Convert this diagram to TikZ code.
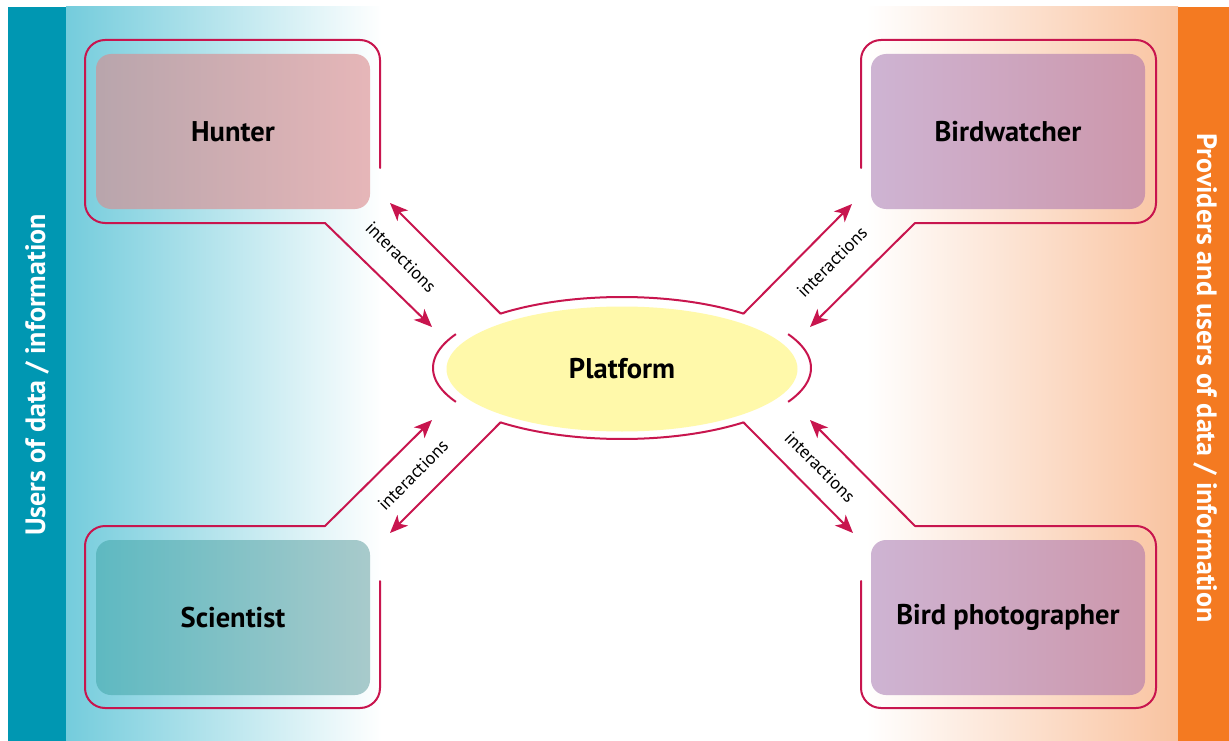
\documentclass[tikz,border=0pt]{standalone}
\usepackage{fontspec}
\setmainfont{PT Sans}
\usetikzlibrary{arrows.meta,shapes.geometric}
\definecolor{crim}{RGB}{200,21,78}
\definecolor{barblue}{RGB}{0,151,178}
\definecolor{lightblue}{RGB}{116,204,220}
\definecolor{barorange}{RGB}{244,122,33}
\definecolor{peach}{RGB}{249,195,160}
\definecolor{yel}{RGB}{255,249,170}
\definecolor{hunL}{RGB}{184,165,172}
\definecolor{hunR}{RGB}{230,182,184}
\definecolor{sciL}{RGB}{94,185,193}
\definecolor{sciR}{RGB}{168,202,203}
\definecolor{birL}{RGB}{206,180,211}
\definecolor{birR}{RGB}{205,151,171}
\begin{document}
\begin{tikzpicture}[x=1pt,y=-1pt,
  outl/.style={draw=crim, line width=2pt, rounded corners=20pt, line cap=round},
  arr/.style={draw=crim, line width=2pt, line cap=round, -{Stealth[length=18pt,width=15pt,inset=5pt]}},
  arcline/.style={draw=crim, line width=2pt},
  actor/.style={minimum width=274pt, minimum height=155pt, rounded corners=15pt, inner sep=0pt, font=\bfseries\fontsize{28.5}{32}\selectfont},
  lbl/.style={font=\fontsize{18}{21}\selectfont, inner sep=1pt},
  side/.style={text=white, font=\bfseries\fontsize{28}{32}\selectfont}
]
\useasboundingbox (0,0) rectangle (1229,741);
\fill[white] (0,0) rectangle (1229,741);
% backgrounds
\fill[left color=lightblue, right color=white] (66,7) rectangle (382,741);
\fill[left color=white, right color=peach] (866,7) rectangle (1178,741);
\fill[barblue] (8,7) rectangle (66,741);
\fill[barorange] (1178,7) rectangle (1229,741);
\node[side, rotate=90] (leftlabel) at (37,375) {Users of data / information};
\node[side, rotate=-90] (rightlabel) at (1205,378) {Providers and users of data / information};

% actor boxes
\node[actor, left color=hunL, right color=hunR] (hunter) at (233,131.5) {Hunter};
\node[actor, left color=sciL, right color=sciR] (scientist) at (233,617.5) {Scientist};
\node[actor, left color=birL, right color=birR] (birdwatcher) at (1008,131.5) {Birdwatcher};
\node[actor, left color=birL, right color=birR] (photographer) at (1008,617.5) {Bird photographer};

% platform
\node[ellipse, fill=yel, minimum width=351pt, minimum height=125pt, font=\bfseries\fontsize{28.5}{32}\selectfont] (platform) at (622,369) {Platform};

% outlines around actors
\coordinate (hOut) at (325,223);
\coordinate (sOut) at (325,526);
\coordinate (bOut) at (915,223);
\coordinate (pOut) at (915,526);
\draw[outl] (380,168) -- (380,40) -- (85,40) -- (85,223) -- (hOut);
\draw[outl] (380,581) -- (380,708) -- (85,708) -- (85,526) -- (sOut);
\draw[outl] (861,168) -- (861,40) -- (1156,40) -- (1156,223) -- (bOut);
\draw[outl] (861,581) -- (861,708) -- (1156,708) -- (1156,526) -- (pOut);

% platform outline arcs
\coordinate (eTL) at ({622+189*cos(130)},{368-71*sin(130)});
\coordinate (eTR) at ({622+189*cos(50)},{368-71*sin(50)});
\coordinate (eBL) at ({622+189*cos(230)},{368-71*sin(230)});
\coordinate (eBR) at ({622+189*cos(310)},{368-71*sin(310)});
\draw[arcline] plot[domain=50:130, samples=50] ({622+189*cos(\x)},{368-71*sin(\x)});
\draw[arcline] plot[domain=230:310, samples=50] ({622+189*cos(\x)},{368-71*sin(\x)});
\draw[arcline] plot[domain=151.5:208.5, samples=40] ({622+189*cos(\x)},{368-71*sin(\x)});
\draw[arcline] plot[domain=-28.5:28.5, samples=40] ({622+189*cos(\x)},{368-71*sin(\x)});

% arrow tips
\coordinate (tHin) at (432,327);
\coordinate (tHout) at (390,203);
\coordinate (tBin) at (810,327);
\coordinate (tBout) at (852,204);
\coordinate (tSin) at (432,420);
\coordinate (tSout) at (390,533);
\coordinate (tPin) at (810,420);
\coordinate (tPout) at (853,533);

\draw[arr] (hOut) -- (tHin);
\draw[arr] (eTL) -- (tHout);
\draw[arr] (bOut) -- (tBin);
\draw[arr] (eTR) -- (tBout);
\draw[arr] (sOut) -- (tSin);
\draw[arr] (eBL) -- (tSout);
\draw[arr] (pOut) -- (tPin);
\draw[arr] (eBR) -- (tPout);

% labels
\node[lbl, rotate=-45] (l1) at (401,257) {interactions};
\node[lbl, rotate=45] (l2) at (832,262) {interactions};
\node[lbl, rotate=45] (l3) at (413,475) {interactions};
\node[lbl, rotate=-45] (l4) at (820,467) {interactions};
\end{tikzpicture}
\end{document}
